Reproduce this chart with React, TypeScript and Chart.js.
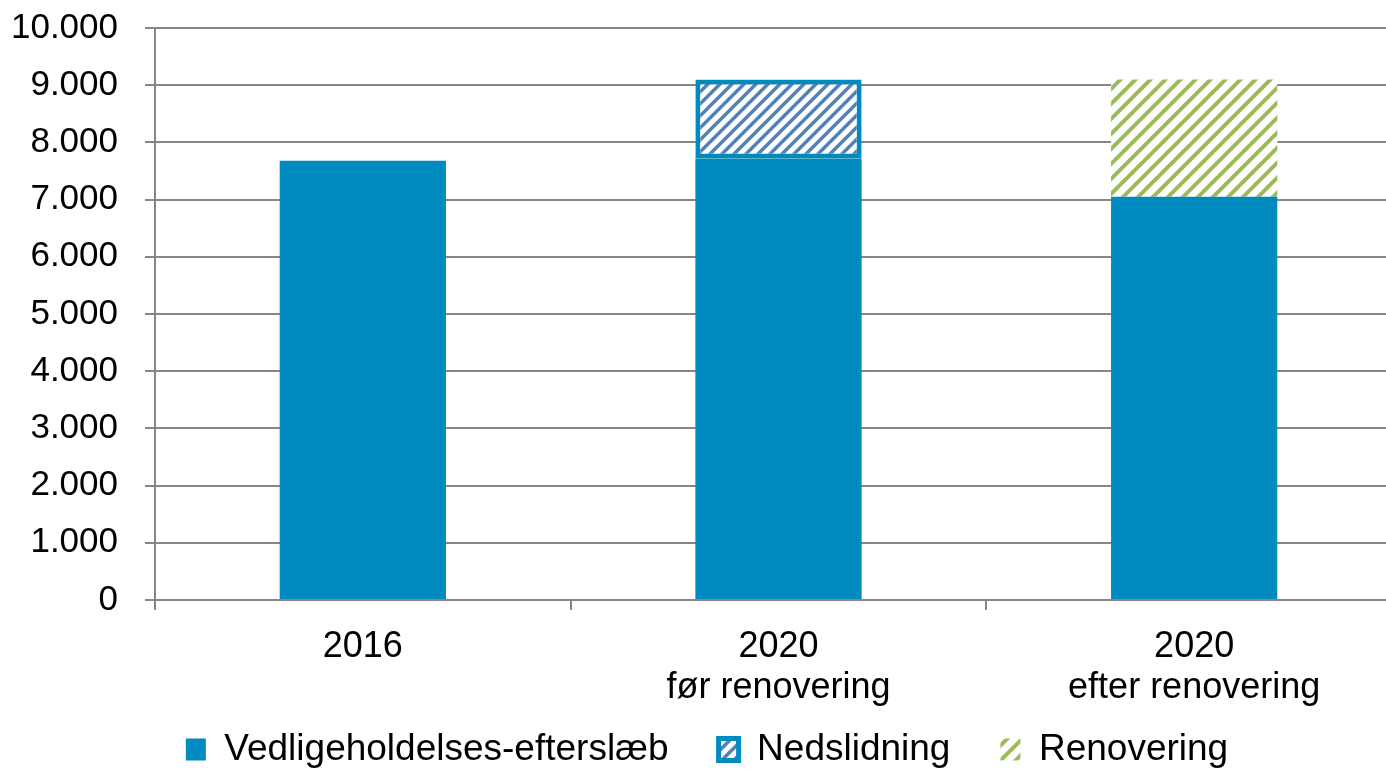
import React, { useEffect, useRef } from "react";
import { Chart, registerables } from "chart.js";

Chart.register(...registerables);

const categories: (string | string[])[] = ["2016", ["2020", "før renovering"], ["2020", "efter renovering"]];
const backlog = [7680, 7720, 7050];
const wear = [null, 1380, null];
const renovation = [null, null, 2050];
const yTicks = [0, 1000, 2000, 3000, 4000, 5000, 6000, 7000, 8000, 9000, 10000];

const BLUE = "#008BC0";
const HATCH_BLUE = "#4F81BD";
const HATCH_GREEN = "#9BBB59";
const GRID = "#868686";
const FONT = "'Liberation Sans', Arial, sans-serif";

function makeHatch(color: string, period: number, width: number): CanvasPattern | string {
  const c = document.createElement("canvas");
  c.width = period;
  c.height = period;
  const ctx = c.getContext("2d");
  if (!ctx) return color;
  ctx.fillStyle = "#ffffff";
  ctx.fillRect(0, 0, period, period);
  ctx.strokeStyle = color;
  ctx.lineWidth = width;
  ctx.lineCap = "square";
  ctx.beginPath();
  ctx.moveTo(0, period);
  ctx.lineTo(period, 0);
  ctx.moveTo(-3, 3);
  ctx.lineTo(3, -3);
  ctx.moveTo(period - 3, period + 3);
  ctx.lineTo(period + 3, period - 3);
  ctx.stroke();
  const p = ctx.createPattern(c, "repeat");
  return p || color;
}

const fmt = (v: number) => String(v).replace(/\B(?=(\d{3})+(?!\d))/g, ".");

export default function App() {
  const ref = useRef<HTMLCanvasElement | null>(null);
  useEffect(() => {
    if (!ref.current) return;
    const blueHatch = makeHatch(HATCH_BLUE, 12, 3.4);
    const greenHatch = makeHatch(HATCH_GREEN, 15, 4);
    const legendFit = {
      id: "legendFit",
      beforeInit(chart: any) {
        const lg = chart.legend;
        if (!lg) return;
        const origFit = lg.fit;
        lg.fit = function () {
          origFit.call(this);
          this.height = 55;
        };
        const origDraw = lg.draw;
        lg.draw = function (...args: any[]) {
          const ctx = this.ctx;
          const t = this.top;
          const b = this.bottom;
          this.top = t - 34;
          this.bottom = b + 100;
          ctx.save();
          ctx.translate(6, 0);
          origDraw.apply(this, args);
          ctx.restore();
          this.top = t;
          this.bottom = b;
        };
      },
    };
    const chart = new Chart(ref.current, {
      type: "bar",
      data: {
        labels: categories,
        datasets: [
          {
            label: "Vedligeholdelses-efterslæb",
            data: backlog,
            backgroundColor: BLUE,
            borderWidth: 0,
            barPercentage: 0.4,
            categoryPercentage: 1,
          },
          {
            label: "Nedslidning",
            data: wear as any,
            backgroundColor: blueHatch as any,
            borderColor: BLUE,
            borderWidth: 5,
            borderSkipped: false,
            barPercentage: 0.4,
            categoryPercentage: 1,
          },
          {
            label: "Renovering",
            data: renovation as any,
            backgroundColor: greenHatch as any,
            borderWidth: 0,
            barPercentage: 0.4,
            categoryPercentage: 1,
          },
        ],
      },
      options: {
        responsive: false,
        animation: false,
        layout: { padding: { top: 28, left: 0, right: 0, bottom: 0 } },
        plugins: {
          tooltip: { enabled: false },
          legend: {
            position: "bottom",
            labels: {
              boxWidth: 20,
              boxHeight: 22,
              padding: 50,
              color: "#000",
              font: { family: FONT, size: 37 },
            },
          },
        },
        scales: {
          x: {
            stacked: true,
            grid: {
              display: true,
              drawOnChartArea: false,
              drawTicks: true,
              tickLength: 10,
              color: GRID,
              lineWidth: 2,
              offset: true,
            },
            border: { display: true, color: GRID, width: 2 },
            ticks: {
              color: "#000",
              padding: 16,
              maxRotation: 0,
              font: { family: FONT, size: 36, lineHeight: 1.15 },
            },
            afterFit: (s: any) => {
              s.height = 115;
              s.paddingLeft = 0;
              s.paddingRight = 0;
            },
          },
          y: {
            stacked: true,
            min: 0,
            max: 10000,
            afterBuildTicks: (s: any) => {
              s.ticks = yTicks.map((v) => ({ value: v }));
            },
            grid: {
              color: GRID,
              lineWidth: 2,
              drawTicks: true,
              tickLength: 10,
            },
            border: { display: true, color: GRID, width: 2 },
            ticks: {
              color: "#000",
              padding: 27,
              font: { family: FONT, size: 35 },
              callback: (v: any) => fmt(Number(v)),
            },
            afterFit: (s: any) => {
              s.width = 155;
              s.paddingTop = 0;
              s.paddingBottom = 0;
            },
          },
        },
      },
      plugins: [legendFit],
    });
    return () => chart.destroy();
  }, []);
  return (
    <div style={{ position: "fixed", left: 0, top: 0, width: 1386, height: 770, overflow: "hidden", background: "#fff" }}>
      <canvas ref={ref} width={1402} height={770} style={{ display: "block", width: 1402, height: 770 }} />
    </div>
  );
}
